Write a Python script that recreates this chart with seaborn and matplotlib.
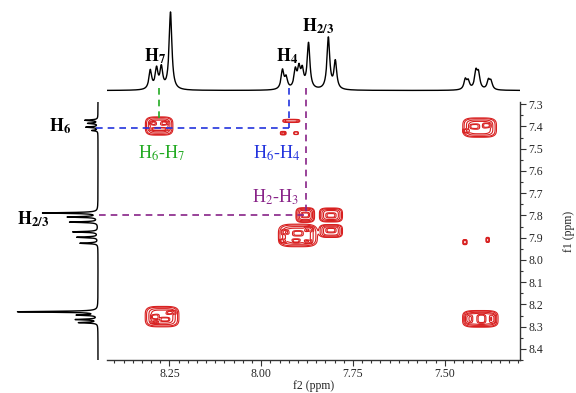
import numpy as np
import matplotlib
matplotlib.use("Agg")
import matplotlib.pyplot as plt
import seaborn as sns
from matplotlib.ticker import MultipleLocator, FormatStrFormatter

sns.set_theme(style="white")
plt.rcParams['font.family'] = ['Liberation Serif', 'DejaVu Serif']
plt.rcParams['mathtext.fontset'] = 'stix'

# ---------------- data ----------------
# top 1D projection (f2): peak positions (ppm) and heights
top_ppm = [8.302, 8.285, 8.272, 8.247,
           7.942, 7.932, 7.907, 7.897, 7.888, 7.871, 7.817, 7.798,
           7.444, 7.436, 7.415, 7.408, 7.381, 7.374]
top_height = [19, 20, 21, 78,
              19, 11, 18, 19, 17, 46, 52, 28,
              10, 8, 17, 15, 9, 8]

# left 1D projection (f1): peak positions (ppm) and heights
left_ppm = [7.372, 7.386, 7.403, 7.418,
            7.789, 7.807, 7.830, 7.874, 7.898, 7.925,
            8.233, 8.248, 8.268, 8.282]
left_height = [13, 10, 12, 6,
               55, 30, 28, 25, 21, 18,
               80, 20, 22, 19]

# 2D cross / diagonal peaks: centre f2, centre f1, half sizes, amplitude
blob_f2 = [8.278, 8.278, 8.295, 8.262,
           7.918, 7.940, 7.905,
           7.880, 7.880, 7.810, 7.810, 7.810, 7.810,
           7.900, 7.935, 7.900, 7.870, 7.940, 7.905, 7.872,
           8.270, 8.245, 8.290, 8.262, 8.290,
           7.403, 7.435, 7.400, 7.370,
           7.405, 7.420, 7.385, 7.440,
           7.445, 7.383]
blob_f1 = [7.398, 7.412, 7.385, 7.385,
           7.375, 7.430, 7.430,
           7.798, 7.798, 7.798, 7.800, 7.870, 7.866,
           7.890, 7.875, 7.880, 7.862, 7.915, 7.915, 7.918,
           8.255, 8.236, 8.256, 8.268, 8.280,
           8.265, 8.265, 8.265, 8.265,
           7.405, 7.400, 7.395, 7.420,
           7.920, 7.910]
blob_w2 = [0.031, 0.025, 0.008, 0.010,
           0.020, 0.007, 0.006,
           0.021, 0.011, 0.026, 0.013, 0.026, 0.013,
           0.044, 0.010, 0.012, 0.011, 0.008, 0.010, 0.010,
           0.038, 0.012, 0.010, 0.012, 0.010,
           0.040, 0.010, 0.010, 0.008,
           0.038, 0.012, 0.010, 0.008,
           0.005, 0.004]
blob_w1 = [0.034, 0.006, 0.008, 0.008,
           0.006, 0.007, 0.006,
           0.027, 0.011, 0.026, 0.010, 0.024, 0.010,
           0.042, 0.010, 0.010, 0.010, 0.008, 0.008, 0.008,
           0.038, 0.008, 0.010, 0.008, 0.006,
           0.031, 0.020, 0.020, 0.020,
           0.036, 0.010, 0.010, 0.008,
           0.010, 0.010]
blob_amp = [1.0, 0.6, 0.5, 0.5,
            0.7, 0.5, 0.4,
            1.0, 0.5, 1.0, 0.5, 1.0, 0.5,
            1.0, 0.6, 0.6, 0.6, 0.6, 0.6, 0.6,
            1.0, 0.6, 0.6, 0.6, 0.6,
            1.0, 0.6, 0.6, 0.6,
            1.0, 0.6, 0.6, 0.6,
            0.6, 0.6]

contour_levels = [0.12, 0.22, 0.45, 0.7, 1.05, 1.3]

# ---------------- figure ----------------
fig = plt.figure(figsize=(5.76, 3.93), dpi=100)
W, H = 576, 393
def rect(x0, y0, x1, y1):
    return [x0 / W, 1 - y1 / H, (x1 - x0) / W, (y1 - y0) / H]

ax_top = fig.add_axes(rect(107, 5, 520, 93))
ax_left = fig.add_axes(rect(8, 102, 100, 360))
ax = fig.add_axes(rect(107, 102, 520, 360))

XL = (8.42, 7.295)
YL = (8.45, 7.29)

def lorentz(grid, pos, hts, hw):
    out = np.zeros_like(grid)
    for p, h in zip(pos, hts):
        out += h / (1 + ((grid - p) / hw) ** 2)
    return out

# top spectrum
g2 = np.linspace(XL[1], XL[0], 2500)
spec_top = lorentz(g2, top_ppm, top_height, 0.0045)
sns.lineplot(x=g2, y=spec_top, ax=ax_top, color='black', lw=1.0, sort=False)
ax_top.set_xlim(*XL)
ax_top.set_ylim(-2.5, 86)
ax_top.axis('off')

# left spectrum
g1 = np.linspace(YL[1], YL[0], 3000)
spec_left = lorentz(g1, left_ppm, left_height, 0.0022)
sns.lineplot(x=spec_left, y=g1, ax=ax_left, color='black', lw=1.0,
             sort=False, orient='y')
ax_left.set_ylim(*YL)
ax_left.set_xlim(90, -2)
ax_left.axis('off')

# 2D contour
X2, Y1 = np.meshgrid(np.linspace(XL[1], XL[0], 900), np.linspace(YL[1], YL[0], 700))
Z = np.zeros_like(X2)
for f2, f1, w2, w1, a in zip(blob_f2, blob_f1, blob_w2, blob_w1, blob_amp):
    Z += a * np.exp(-(((X2 - f2) / w2) ** 4 + ((Y1 - f1) / w1) ** 4))
ax.contour(X2, Y1, Z, levels=contour_levels, colors='#d82020', linewidths=0.8)
ax.set_xlim(*XL)
ax.set_ylim(*YL)

for s in ['top', 'left']:
    ax.spines[s].set_visible(False)
for s in ['bottom', 'right']:
    ax.spines[s].set_visible(True)
    ax.spines[s].set_color('#333333')
    ax.spines[s].set_linewidth(1.0)
ax.set_facecolor('none')

ax.xaxis.set_major_locator(MultipleLocator(0.25))
ax.xaxis.set_minor_locator(MultipleLocator(0.025))
ax.xaxis.set_major_formatter(FormatStrFormatter('%.2f'))
ax.yaxis.set_major_locator(MultipleLocator(0.1))
ax.yaxis.set_minor_locator(MultipleLocator(0.05))
ax.yaxis.set_major_formatter(FormatStrFormatter('%.1f'))
ax.yaxis.tick_right()
ax.yaxis.set_label_position('right')
ax.tick_params(axis='both', which='major', direction='out', length=4, width=0.8,
               labelsize=8.5, color='#333333', pad=2)
ax.tick_params(axis='both', which='minor', direction='out', length=2.5, width=0.8,
               color='#333333')
ax.tick_params(axis='x', bottom=True, top=False, which='both')
ax.tick_params(axis='y', right=True, left=False, which='both')
ax.set_xlabel('f2 (ppm)', fontsize=8.5, labelpad=0)
ax.set_ylabel('f1 (ppm)', fontsize=8.5, labelpad=14)

# dashed guide lines
dash = (0, (4, 3))
ytop = 7.227
ax.plot([8.278, 8.278], [ytop, 7.385], color='#22aa22', lw=1.2, ls=dash, clip_on=False)
ax.plot([8.449, 7.923], [7.408, 7.408], color='#2233dd', lw=1.2, ls=dash, clip_on=False)
ax.plot([7.923, 7.923], [ytop, 7.408], color='#2233dd', lw=1.2, ls=dash, clip_on=False)
ax.plot([7.877, 7.877], [ytop, 7.798], color='#882288', lw=1.2, ls=dash, clip_on=False)
ax.plot([8.441, 7.877], [7.798, 7.798], color='#882288', lw=1.2, ls=dash, clip_on=False)

# labels
ax.text(8.272, 7.519, r'H$_6$-H$_7$', color='#22aa22', fontsize=13,
        ha='center', va='center')
ax.text(7.958, 7.519, r'H$_6$-H$_4$', color='#2233dd', fontsize=13,
        ha='center', va='center')
ax.text(7.961, 7.717, r'H$_2$-H$_3$', color='#882288', fontsize=13,
        ha='center', va='center')

def ftext(x, y, s):
    fig.text(x / W, 1 - y / H, s, fontsize=13, ha='center', va='center', color='black')

ftext(155, 56, r'$\mathbf{H_7}$')
ftext(287, 56, r'$\mathbf{H_4}$')
ftext(318, 26, r'$\mathbf{H_{2/3}}$')
ftext(60, 126, r'$\mathbf{H_6}$')
ftext(33, 219, r'$\mathbf{H_{2/3}}$')

fig.savefig('out.png', dpi=100)
